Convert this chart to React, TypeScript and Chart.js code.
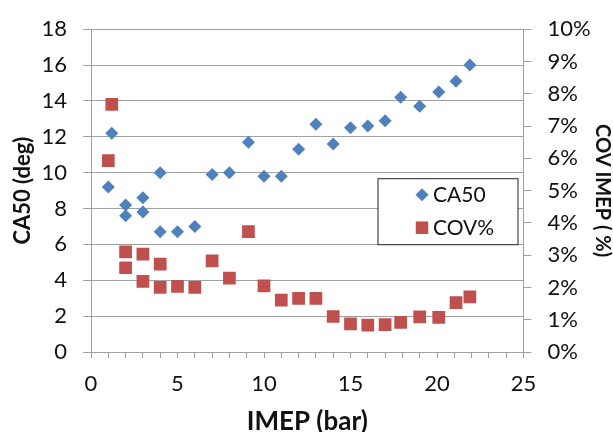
import React, { useEffect, useRef } from "react";
import { Chart, registerables } from "chart.js";

Chart.register(...registerables);

// CA50 (deg) vs IMEP (bar)
const caX = [1.0, 1.2, 2, 2, 3, 3, 4, 4, 5, 6, 7, 8, 9.1, 10, 11, 12, 13, 14, 15, 16, 17, 17.9, 19, 20.1, 21.1, 21.9];
const caY = [9.2, 12.2, 8.2, 7.6, 8.6, 7.8, 10.0, 6.7, 6.7, 7.0, 9.9, 10.0, 11.7, 9.8, 9.8, 11.3, 12.7, 11.6, 12.5, 12.6, 12.9, 14.2, 13.7, 14.5, 15.1, 16.0];

// COV IMEP (%) vs IMEP (bar)
const covX = [1.0, 1.2, 2, 2, 3, 3, 4, 4, 5, 6, 7, 8, 9.1, 10, 11, 12, 13, 14, 15, 16, 17, 17.9, 19, 20.1, 21.1, 21.9];
const covY = [5.93, 7.67, 3.1, 2.61, 3.03, 2.19, 2.72, 2.0, 2.03, 2.0, 2.82, 2.29, 3.73, 2.05, 1.61, 1.66, 1.66, 1.1, 0.87, 0.83, 0.85, 0.92, 1.09, 1.07, 1.53, 1.71];

const seriesLabels = ["CA50", "COV%"];
const xTitle = "IMEP (bar)";
const yTitle = "CA50 (deg)";
const y1Title = "COV IMEP ( %)";

const BLUE = "#4F81BD";
const RED = "#C0504D";
const GRID = "#a0a0a0";
const FONT = "Lato";

const legendPlugin = {
  id: "boxLegend",
  afterDraw(chart: any) {
    const { ctx, chartArea } = chart;
    const ds = chart.data.datasets;
    const w = 140;
    const h = 66;
    const x0 = chartArea.right - 5.5 - w;
    const y0 = chartArea.top + 149.5;
    ctx.save();
    ctx.fillStyle = "#ffffff";
    ctx.fillRect(x0, y0, w, h);
    ctx.strokeStyle = "#222";
    ctx.lineWidth = 1;
    ctx.strokeRect(x0, y0, w, h);
    ctx.font = `21px ${FONT}`;
    ctx.textBaseline = "middle";
    ctx.textAlign = "left";
    ds.forEach((d: any, i: number) => {
      const cy = y0 + 16 + i * 33;
      const cx = x0 + 44;
      ctx.fillStyle = d.backgroundColor;
      ctx.beginPath();
      if (d.pointStyle === "rectRot") {
        const r = 6.5;
        ctx.moveTo(cx, cy - r);
        ctx.lineTo(cx + r, cy);
        ctx.lineTo(cx, cy + r);
        ctx.lineTo(cx - r, cy);
        ctx.closePath();
        ctx.fill();
      } else {
        const s = 12.5;
        ctx.fillRect(cx - s / 2, cy - s / 2, s, s);
      }
      ctx.fillStyle = "#111";
      ctx.fillText(d.label, x0 + 55, cy + 1);
    });
    ctx.restore();
  },
};

export default function App() {
  const ref = useRef<HTMLCanvasElement | null>(null);
  useEffect(() => {
    if (!ref.current) return;
    const tickFont = { family: FONT, size: 22 };
    const xTitleFont = { family: FONT, size: 26, weight: "bold" as const, lineHeight: 1 };
    const yTitleFont = { family: FONT, size: 22, weight: "bold" as const, lineHeight: 1 };
    const y1TitleFont = { family: FONT, size: 20, weight: "bold" as const, lineHeight: 1 };
    const chart = new Chart(ref.current, {
      type: "scatter",
      data: {
        datasets: [
          {
            label: seriesLabels[0],
            data: caX.map((x, i) => ({ x, y: caY[i] })),
            yAxisID: "y",
            pointStyle: "rectRot",
            pointRadius: 6.5,
            backgroundColor: BLUE,
            borderColor: BLUE,
            borderWidth: 0,
          },
          {
            label: seriesLabels[1],
            data: covX.map((x, i) => ({ x, y: covY[i] })),
            yAxisID: "y1",
            pointStyle: "rect",
            pointRadius: 9,
            backgroundColor: RED,
            borderColor: RED,
            borderWidth: 0,
          },
        ],
      },
      options: {
        animation: false,
        responsive: false,
        maintainAspectRatio: false,
        layout: { padding: { top: 22.5, left: 0, right: 0, bottom: 0 } },
        plugins: { legend: { display: false }, tooltip: { enabled: false } },
        scales: {
          x: {
            type: "linear",
            min: 0,
            max: 25,
            afterFit: (s: any) => { s.height = 80; },
            ticks: {
              stepSize: 1,
              autoSkip: false,
              maxRotation: 0,
              padding: 13,
              color: "#111",
              font: tickFont,
              callback: (v: any) => (v % 5 === 0 ? String(v) : ""),
            },
            grid: { drawOnChartArea: false, drawTicks: true, tickLength: 6, color: GRID, lineWidth: 1 },
            border: { color: GRID, width: 1 },
            title: { display: true, text: xTitle, color: "#111", font: xTitleFont, padding: { top: 0, bottom: -3 } },
          },
          y: {
            position: "left",
            min: 0,
            max: 18,
            afterFit: (s: any) => { s.width = 91; },
            ticks: { stepSize: 2, padding: 16, color: "#111", font: tickFont },
            grid: { drawTicks: true, tickLength: 8, color: GRID, lineWidth: 1 },
            border: { color: GRID, width: 1 },
            title: { display: true, text: yTitle, color: "#111", font: yTitleFont, padding: { top: 12, bottom: 0 } },
          },
          y1: {
            position: "right",
            min: 0,
            max: 10,
            afterFit: (s: any) => { s.width = 89.5; },
            ticks: { stepSize: 1, padding: 16, color: "#111", font: tickFont, callback: (v: any) => v + "%" },
            grid: { drawOnChartArea: false, drawTicks: true, tickLength: 8, color: GRID, lineWidth: 1 },
            border: { color: GRID, width: 1 },
            title: { display: true, text: y1Title, color: "#111", font: y1TitleFont, padding: { top: 1, bottom: 0 } },
          },
        },
      },
      plugins: [legendPlugin],
    });
    return () => chart.destroy();
  }, []);
  return (
    <div style={{ position: "absolute", left: 0, top: 0, width: 613, height: 432, background: "#fff" }}>
      <canvas ref={ref} width={613} height={432} style={{ width: 613, height: 432, display: "block" }} />
    </div>
  );
}
